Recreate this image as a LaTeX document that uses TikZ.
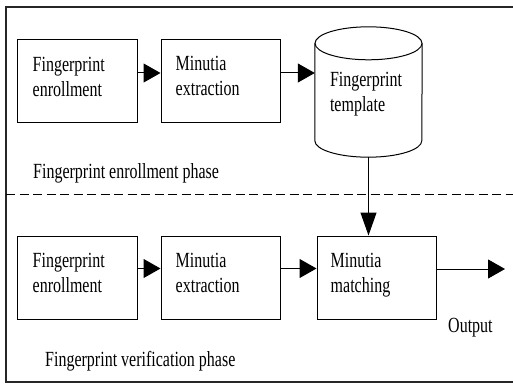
\documentclass[tikz,border=0pt]{standalone}
\usepackage{fontspec}
\setmainfont{Liberation Serif}
\usetikzlibrary{calc,arrows.meta}
\newcommand{\tx}[1]{\scalebox{1}[1.35]{\begin{tabular}[t]{@{}l@{}}#1\end{tabular}}}
\begin{document}
\begin{tikzpicture}[x=1pt,y=-1pt,
  boxst/.style={draw, line width=1pt, minimum width=120pt, minimum height=82pt, inner sep=0pt},
  lbl/.style={inner sep=0pt, anchor=base west, font=\fontsize{16}{18.5}\selectfont},
  conn/.style={line width=1pt, -{Triangle[length=17pt,width=19pt]}},
  vconn/.style={line width=1pt, -{Triangle[length=23pt,width=16pt]}}]
\useasboundingbox (0,0) rectangle (513,385);
% frame
\coordinate (ftr) at (513,7);
\coordinate (ftl) at (6,7);
\coordinate (fbl) at (6,382);
\coordinate (fbr) at (513,382);
\draw[line width=1.3pt, black!85] (ftr) -- (ftl) -- (fbl) -- (fbr);
% dashed separator
\coordinate (dl) at (6,194);
\coordinate (dr) at (513,194);
\draw[line width=1pt, dash pattern=on 9pt off 4.5pt] (dl) -- (dr);
% top row
\node[boxst] (b1) at (77,81) {};
\node[boxst, minimum width=119pt] (b2) at (220.5,81) {};
\node[inner sep=0pt, minimum width=107pt, minimum height=130pt] (cyl) at (368.5,92) {};
\draw[line width=1pt] ($(cyl.north)+(0,16.5)$) ellipse [x radius=53.5pt, y radius=16.5pt];
\draw[line width=1pt] ($(cyl.north west)+(0,16.5)$) -- ($(cyl.south west)+(0,-16.5)$)
  arc[start angle=180, end angle=360, x radius=53.5pt, y radius=16.5pt]
  -- ($(cyl.north east)+(0,16.5)$);
\node[lbl] (t1) at ($(b1.north west)+(16,32)$) {\tx{Fingerprint\\enrollment}};
\node[lbl] (t2) at ($(b2.north west)+(15,31)$) {\tx{Minutia\\extraction}};
\node[lbl] (t3) at ($(cyl.north west)+(15,60)$) {\tx{Fingerprint\\template}};
\node[lbl] (p1) at (33,178) {\scalebox{1}[1.35]{Fingerprint enrollment phase}};
\draw[conn] ([yshift=8pt]b1.east) -- ([yshift=8pt]b2.west);
\draw[conn] ([yshift=8pt]b2.east) -- ([yshift=8pt]b2.east -| cyl.west);
% bottom row
\node[boxst, minimum height=83pt] (b4) at (77,277.5) {};
\node[boxst, minimum width=119pt, minimum height=83pt] (b5) at (220.5,277.5) {};
\node[boxst, minimum width=119pt, minimum height=83pt] (b6) at (376.5,277.5) {};
\node[lbl] (t4) at ($(b4.north west)+(16,32)$) {\tx{Fingerprint\\enrollment}};
\node[lbl] (t5) at ($(b5.north west)+(15,32)$) {\tx{Minutia\\extraction}};
\node[lbl] (t6) at ($(b6.north west)+(14,32)$) {\tx{Minutia\\matching}};
\node[lbl] (p2) at (45,366) {\scalebox{1}[1.35]{Fingerprint verification phase}};
\node[lbl] (out) at (448,332) {\scalebox{1}[1.35]{Output}};
\draw[conn] ([yshift=9pt]b4.east) -- ([yshift=9pt]b5.west);
\draw[conn] ([yshift=9pt]b5.east) -- ([yshift=9pt]b6.west);
\coordinate (oend) at (505,269);
\draw[conn] (b6.east |- oend) -- (oend);
\draw[vconn] (cyl.south) -- (cyl.south |- b6.north);
\end{tikzpicture}
\end{document}
